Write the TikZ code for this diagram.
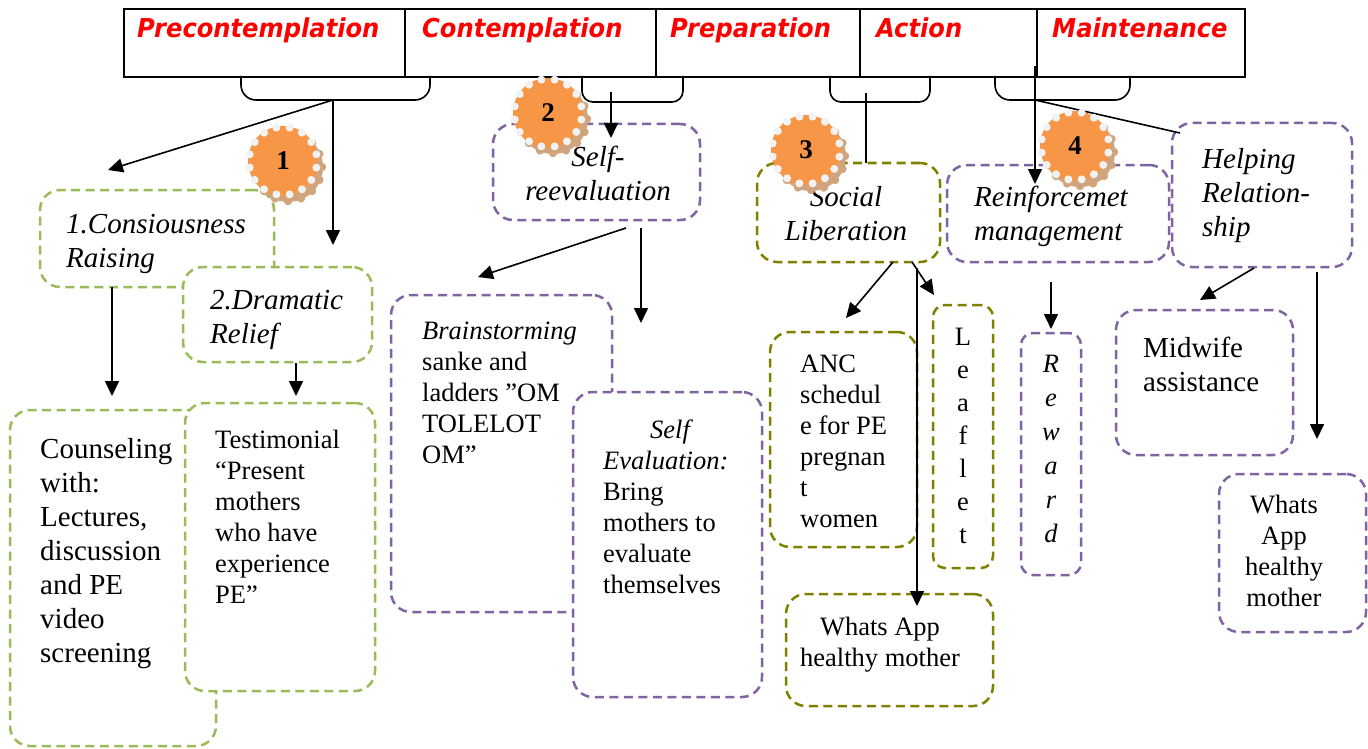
\documentclass[tikz,border=0pt]{standalone}
\usepackage{fontspec}
\setmainfont{Liberation Serif}
\newfontfamily\hdrfont[FakeStretch=0.93]{DejaVu Sans}
\usetikzlibrary{arrows.meta,calc}
\definecolor{gcol}{RGB}{155,187,89}
\definecolor{pcol}{RGB}{128,100,162}
\definecolor{ocol}{RGB}{128,128,0}
\definecolor{orng}{RGB}{247,150,70}
\definecolor{shad}{RGB}{208,165,125}
\definecolor{dotc}{RGB}{242,242,242}
\begin{document}
\begin{tikzpicture}[x=1pt,y=-1pt,
 dbox/.style={draw, fill=white, line width=2.5pt, dash pattern=on 9pt off 5.5pt, rounded corners=20pt, anchor=north west, inner sep=0pt, outer sep=0pt},
 gbox/.style={dbox, draw=gcol},
 pbox/.style={dbox, draw=pcol},
 obox/.style={dbox, draw=ocol},
 big/.style={font=\fontsize{29}{34}\selectfont, inner sep=0pt, align=left, anchor=north west},
 small/.style={font=\fontsize{26.5}{31}\selectfont, inner sep=0pt, align=left, anchor=north west},
 arr/.style={line width=1.6pt, -{Triangle[length=15pt,width=14pt]}},
 ln/.style={line width=1.6pt},
 hdr/.style={font=\hdrfont\bfseries\itshape\fontsize{26}{30}\selectfont, text=red, anchor=base west, inner sep=0pt},
 badge/.style={circle, fill=orng, minimum size=70pt, inner sep=0pt, font=\fontsize{27}{30}\selectfont\bfseries}
]
\useasboundingbox (0,0) rectangle (1368,749);
\fill[white] (0,0) rectangle (1368,749);

% header
\node[draw, line width=2pt, minimum width=1121pt, minimum height=68pt, anchor=north west, inner sep=0pt] (hd) at (123,8) {};
\foreach \xx in {405,656,860,1037} \draw[ln] (\xx,8) -- (\xx,76);
\node[hdr] (h1) at (137,38) {Precontemplation};
\node[hdr] (h2) at (422,38) {Contemplation};
\node[hdr] (h3) at (670,38) {Preparation};
\node[hdr] (h4) at (876,38) {Action};
\node[hdr] (h5) at (1052,38) {Maintenance};

% brackets
\draw[ln, rounded corners=15pt] (241,76) -- (241,100) -- (430,100) -- (430,76);
\draw[ln, rounded corners=11pt] (582,76) -- (582,102) -- (683,102) -- (683,76);
\draw[ln, rounded corners=11pt] (830,76) -- (830,102) -- (930,102) -- (930,76);
\draw[ln, rounded corners=15pt] (995,76) -- (995,100) -- (1130,100) -- (1130,76);

% boxes: green
\node[gbox, minimum width=234pt, minimum height=97pt] (cr) at (40,190) {};
\node[gbox, minimum width=189pt, minimum height=95pt] (dr) at (183,267) {};
\node[gbox, minimum width=206pt, minimum height=336pt] (co) at (10,410) {};
\node[gbox, minimum width=190pt, minimum height=288pt] (te) at (185,403) {};
% purple
\node[pbox, minimum width=207pt, minimum height=96pt] (sr) at (493,124) {};
\node[pbox, minimum width=221pt, minimum height=317pt] (br) at (391,295) {};
\node[pbox, minimum width=189pt, minimum height=305pt] (se) at (573,392) {};
\node[pbox, minimum width=222pt, minimum height=97pt] (rm) at (947,165) {};
\node[pbox, minimum width=180pt, minimum height=144pt] (hr) at (1172,123) {};
\node[pbox, minimum width=60pt, minimum height=242pt, rounded corners=12pt] (rw) at (1021,333) {};
\node[pbox, minimum width=177pt, minimum height=145pt] (ma) at (1116,310) {};
\node[pbox, minimum width=147pt, minimum height=158pt] (wb) at (1219,474) {};
% olive
\node[obox, minimum width=183pt, minimum height=99pt] (sl) at (757,163) {};
\node[obox, minimum width=147pt, minimum height=215pt] (anc) at (770,332) {};
\node[obox, minimum width=60pt, minimum height=263pt, rounded corners=12pt] (lf) at (933,305) {};
\node[obox, minimum width=207pt, minimum height=112pt] (wa) at (786,594) {};

% texts
\node[big] (tcr) at (66,214) {\itshape 1.Consiousness\\\itshape Raising};
\node[big] (tdr) at (210,290) {\itshape 2.Dramatic\\\itshape Relief};
\node[big] (tco) at (40,438) {Counseling\\with:\\Lectures,\\discussion\\and PE\\video\\screening};
\node[small] (tte) at (215,430) {Testimonial\\``Present\\mothers\\who have\\experience\\PE''};
\node[big, anchor=north, align=center] (tsr) at (598,146) {\itshape Self-\\\itshape reevaluation};
\node[small] (tbr) at (422,322) {\itshape Brainstorming\\sanke and\\ladders ''OM\\TOLELOT\\OM''};
\node[small] (tse) at (603,420) {\hspace*{47pt}\itshape Self\\\itshape Evaluation:\\Bring\\mothers to\\evaluate\\themselves};
\node[big, anchor=north, align=center] (tsl) at (846,186) {\itshape Social\\\itshape Liberation};
\node[big] (trm) at (974,186) {\itshape Reinforcemet\\\itshape management};
\node[big] (thr) at (1202,148) {\itshape Helping\\\itshape Relation-\\\itshape ship};
\node[big] (tma) at (1143,337) {Midwife\\assistance};
\node[small, anchor=north, align=center] (twb) at (1284,495) {Whats\\App\\healthy\\mother};
\node[small] (tanc) at (800,355) {ANC\\schedul\\e for PE\\pregnan\\t\\women};
\node[small, anchor=north, align=center, font=\fontsize{26.5}{33}\selectfont] (tlf) at (963,328) {L\\e\\a\\f\\l\\e\\t};
\node[small, anchor=north, align=center, font=\fontsize{26.5}{34}\selectfont\itshape] (trw) at (1051,355) {R\\e\\w\\a\\r\\d};
\node[small, anchor=north, align=center] (twa) at (880,617) {Whats App\\healthy mother};

% connectors
\coordinate (k1) at (333,100);
\coordinate (k1a) at (108,170);
\coordinate (k1b) at (333,245);
\coordinate (cra) at (112,287);
\coordinate (crb) at (112,396);
\coordinate (dra) at (296,363);
\coordinate (drb) at (296,396);
\coordinate (k2) at (611,92);
\coordinate (k2b) at (611,138);
\coordinate (sra) at (626,228);
\coordinate (srb) at (478,277);
\coordinate (src) at (641,228);
\coordinate (srd) at (641,323);
\coordinate (k3) at (866,93);
\coordinate (k3b) at (866,163);
\coordinate (k4) at (1035,66);
\coordinate (k4b) at (1035,184);
\coordinate (k4c) at (1035,100);
\coordinate (k4d) at (1180,133);
\coordinate (sla) at (893,262);
\coordinate (slb) at (846,318);
\coordinate (slc) at (912,262);
\coordinate (sld) at (934,295);
\coordinate (sle) at (917,268);
\coordinate (slf) at (917,606);
\coordinate (rma) at (1051,282);
\coordinate (rmb) at (1051,329);
\coordinate (hra) at (1254,268);
\coordinate (hrb) at (1200,300);
\coordinate (hrc) at (1317,272);
\coordinate (hrd) at (1317,439);

\draw[arr] (k1) -- (k1a);
\draw[arr] (k1) -- (k1b);
\draw[arr] (cra) -- (crb);
\draw[arr] (dra) -- (drb);
\draw[arr] (k2) -- (k2b);
\draw[arr] (sra) -- (srb);
\draw[arr] (src) -- (srd);
\draw[ln] (k3) -- (k3b);
\draw[arr] (k4) -- (k4b);
\draw[ln] (k4c) -- (k4d);
\draw[arr] (sla) -- (slb);
\draw[arr] (slc) -- (sld);
\draw[arr] (sle) -- (slf);
\draw[arr] (rma) -- (rmb);
\draw[arr] (hra) -- (hrb);
\draw[arr] (hrc) -- (hrd);

% badges
\foreach \bx/\by/\bn/\nm in {283/161/1/b1, 548/113/2/b2, 806/150/3/b3, 1075/146/4/b4}{
  \fill[shad] (\bx+5,\by+6) circle (35);
  \foreach \a in {0,22.5,...,337.5} \fill[shad] ($(\bx+5,\by+6)+(\a:34)$) circle (4.2);
  \node[badge] (\nm) at (\bx,\by) {\bn};
  \foreach \a in {11.25,33.75,...,348.75} \fill[dotc] ($(\bx,\by)+(\a:34)$) circle (4);
}
\end{tikzpicture}
\end{document}
